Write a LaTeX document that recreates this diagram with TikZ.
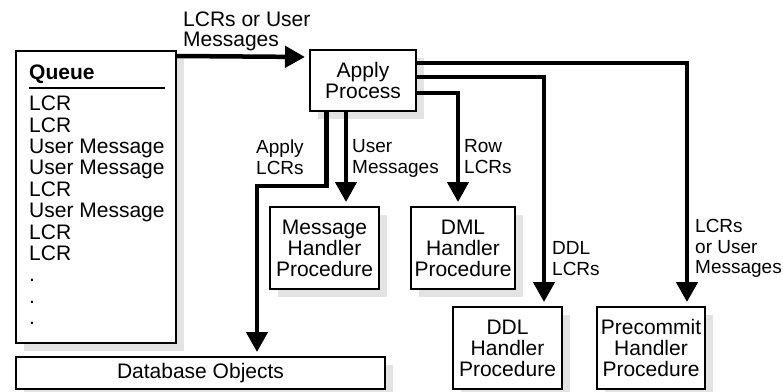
\documentclass[tikz,border=0pt]{standalone}
\usepackage{fontspec}
\setmainfont{Liberation Sans}
\usetikzlibrary{arrows.meta,shadows}
\definecolor{shadowgray}{gray}{0.89}

\begin{document}
\begin{tikzpicture}[x=1pt,y=-1pt,
                    font=\fontsize{21}{21}\selectfont,
                    box/.style={rectangle,draw,fill=white,line width=2pt,align=center,inner sep=0pt,
                      general shadow={fill=shadowgray,shadow xshift=8pt,shadow yshift=-8pt}},
                    proc box/.style={box,minimum width=108pt,minimum height=82pt},
                    flow/.style={line width=4.5pt,-{Triangle[length=20pt,width=21pt]},shorten >=4pt},
                    note/.style={anchor=north west,inner sep=0pt,align=left,
                      font=\fontsize{19}{20.5}\selectfont},
                    qitem/.style={anchor=base west,inner sep=0pt}]
  \useasboundingbox (0,0) rectangle (783,391);

  \node[box,minimum width=160pt,minimum height=292pt] (queue) at (96,197) {};
  \node[qitem,font=\fontsize{21}{21}\selectfont\bfseries] (qtitle) at (29,79.5) {Queue};
  \draw[line width=2pt] (29,88) -- (165,88);
  \foreach \t [count=\i] in {LCR,LCR,User Message,User Message,LCR,User Message,LCR,LCR,.,.,.}
    \node[qitem] (q\i) at (29,{89.3+21.4*\i}) {\t};

  \node[box,minimum width=106pt,minimum height=61pt] (apply) at (363,80.5) {Apply\\Process};
  \node[proc box,minimum width=109pt] (msg) at (324.5,248) {Message\\Handler\\Procedure};
  \node[proc box,minimum width=104pt] (dml) at (463,248) {DML\\Handler\\Procedure};
  \node[proc box,minimum width=109pt] (ddl) at (507.5,348) {DDL\\Handler\\Procedure};
  \node[proc box] (pre) at (651,348) {Precommit\\Handler\\Procedure};
  \node[box,minimum width=369pt,minimum height=32pt] (db) at (200.5,373) {Database Objects};

  \node[note,font=\fontsize{21}{20.3}\selectfont] (inlbl) at (183,11.7) {LCRs or User\\Messages};
  \node[note] (applbl) at (256,139.7) {Apply\\LCRs};
  \node[note] (msglbl) at (352,139.5) {User\\Messages};
  \node[note] (rowlbl) at (464,139.5) {Row\\LCRs};
  \node[note] (ddllbl) at (552,241.4) {DDL\\LCRs};
  \node[note] (prelbl) at (695,219.4) {LCRs\\or User\\Messages};

  \draw[flow] ([yshift=-6pt]queue.north east) -- ([yshift=23.5pt]apply.west);
  \draw[flow] ([xshift=-36.3pt]apply.south) -- ++(0,74) -| ([xshift=56.5pt]db.north);
  \draw[flow] ([xshift=-17pt]apply.south) -- ([xshift=21.5pt]msg.north);
  \draw[flow] ([yshift=-12.5pt]apply.east) -| ([xshift=-5pt]dml.north);
  \draw[flow] ([yshift=3.5pt]apply.east) -| ([xshift=36.5pt]ddl.north);
  \draw[flow] ([yshift=17.5pt]apply.east) -| ([xshift=36pt]pre.north);
\end{tikzpicture}
\end{document}
